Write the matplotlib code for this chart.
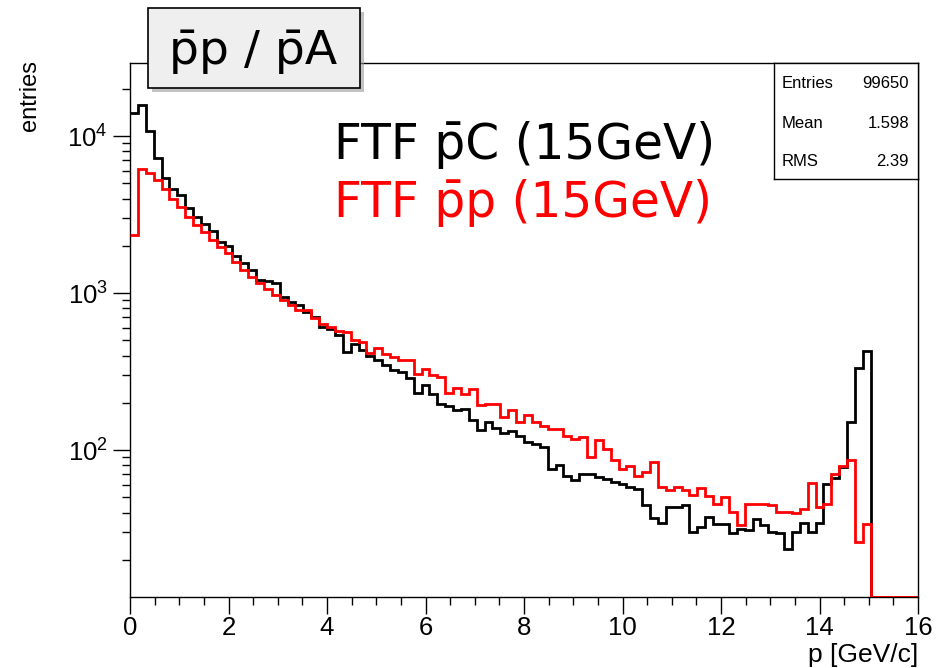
import numpy as np
import matplotlib
matplotlib.use("Agg")
import matplotlib.pyplot as plt
from matplotlib.patches import Rectangle
from matplotlib.ticker import FixedLocator, LogLocator, NullFormatter

# ---------------- data ----------------
bin_edges = np.linspace(0, 16, 101)

counts_pC = [14070, 15750, 10800, 7200, 5380, 4570, 4200, 3460, 3060, 2770,
             2490, 2130, 2000, 1730, 1550, 1400, 1220, 1190, 1160, 950,
             880, 840, 760, 709, 604, 590, 541, 424, 475, 433,
             400, 374, 348, 323, 316, 286, 230, 260, 227, 196,
             191, 180, 184, 155, 134, 152, 139, 129, 132, 123,
             112, 110, 105, 75.4, 80.6, 68, 64.4, 70.8, 70.8, 67.3,
             65, 62.6, 61.1, 58, 56.7, 45, 37.2, 34.4, 43.4, 43.4,
             45, 30.2, 32.3, 37.4, 34, 34, 29.5, 31.6, 30.9, 36.3,
             33.3, 30.2, 29.5, 23.3, 30.2, 34.3, 30.2, 34.4, 61.1, 66,
             78, 151, 331, 429, 0, 0, 0, 0, 0, 0]

counts_pp = [2340, 6140, 5840, 5250, 4570, 3950, 3510, 3060, 2710, 2460,
             2180, 1960, 1790, 1580, 1400, 1270, 1160, 1055, 970, 902,
             840, 779, 779, 690, 640, 610, 575, 565, 505, 490,
             414, 448, 411, 392, 374, 374, 304, 328, 299, 292,
             232, 250, 227, 244, 193, 198, 198, 162, 180, 152,
             167, 152, 142, 137, 137, 123, 118, 121, 90, 116,
             101, 86, 75.4, 79, 68, 72.6, 84.6, 58, 55.6, 58,
             55.6, 51.8, 57.5, 51, 45.5, 50, 40.2, 33.3, 45.5, 45.5,
             45.5, 45, 40.2, 40.2, 39.6, 42.3, 61.7, 43.5, 45.5, 70.8,
             78.9, 86.4, 25.8, 34, 0, 0, 0, 0, 0, 0]

stats_labels = ["Entries", "Mean", "RMS"]
stats_values = ["99650", "1.598", "2.39"]

x_major = [0, 2, 4, 6, 8, 10, 12, 14, 16]
title_text = "p\u0304p / p\u0304A"
legend_texts = ["FTF p\u0304C (15GeV)", "FTF p\u0304p (15GeV)"]
legend_colors = ["black", "red"]

# ---------------- figure ----------------
W, H = 940, 668
fig = plt.figure(figsize=(W / 100, H / 100), dpi=100)
plt.rcParams['font.family'] = ['Liberation Sans', 'DejaVu Sans']

def fx(px):
    return px / W

def fy(py):
    return 1 - py / H

x0, x1, y0, y1 = 130, 918, 63, 597
ax = fig.add_axes([fx(x0), fy(y1), fx(x1) - fx(x0), fy(y0) - fy(y1)])

ymin, ymax = 11.6, 29200
ax.set_yscale('log')
ax.set_xlim(0, 16)
ax.set_ylim(ymin, ymax)

b = np.array(counts_pC, dtype=float)
r = np.array(counts_pp, dtype=float)
b = np.where(b > 0, b, ymin)
r = np.where(r > 0, r, ymin)

ax.stairs(b, bin_edges, color='black', lw=2.0, baseline=None, zorder=3)
ax.stairs(r, bin_edges, color='red', lw=2.0, baseline=None, zorder=4)

for s in ax.spines.values():
    s.set_linewidth(1.0)
    s.set_color('black')

ax.xaxis.set_major_locator(FixedLocator(x_major))
ax.xaxis.set_minor_locator(FixedLocator(np.arange(0, 16.01, 0.5)))
ax.yaxis.set_major_locator(LogLocator(base=10, numticks=10))
ax.yaxis.set_minor_locator(LogLocator(base=10, subs=np.arange(2, 10), numticks=20))
ax.yaxis.set_minor_formatter(NullFormatter())

ax.tick_params(axis='both', which='major', direction='out', length=12, width=1.0,
               labelsize=18.5, pad=2, top=False, right=False)
ax.tick_params(axis='both', which='minor', direction='out', length=6, width=1.0,
               top=False, right=False)
ax.tick_params(axis='y', which='major', pad=4)

for lab in ax.get_xticklabels() + ax.get_yticklabels():
    lab.set_fontfamily('Liberation Sans')

# axis titles (ROOT style: right/top aligned)
fig.text(fx(918), fy(655), "p [GeV/c]", ha='right', va='center', fontsize=19,
         family='Liberation Sans')
fig.text(fx(30), fy(60), "entries", ha='center', va='top', rotation=90, fontsize=17,
         family='Liberation Sans')

# stats box
stat_ax = fig.add_axes([fx(774), fy(179), fx(918) - fx(774), fy(63) - fy(179)])
stat_ax.set_xlim(0, 1)
stat_ax.set_ylim(0, 1)
stat_ax.set_xticks([])
stat_ax.set_yticks([])
for s in stat_ax.spines.values():
    s.set_linewidth(1.0)
stat_rows_y = [84, 123, 162]
for lab, val, py in zip(stats_labels, stats_values, stat_rows_y):
    fig.text(fx(782), fy(py), lab, ha='left', va='center', fontsize=12,
             family='Liberation Sans')
    fig.text(fx(909), fy(py), val, ha='right', va='center', fontsize=12,
             family='Liberation Sans')

# title box with shadow
shadow = Rectangle((fx(152), fy(92)), fx(360) - fx(148), fy(8) - fy(88),
                   transform=fig.transFigure, facecolor='#9a9a9a', edgecolor='none',
                   alpha=0.6, zorder=9)
fig.patches.append(shadow)
box = Rectangle((fx(148), fy(88)), fx(360) - fx(148), fy(8) - fy(88),
                transform=fig.transFigure, facecolor='#efefef', edgecolor='black',
                lw=1.2, zorder=10)
fig.patches.append(box)
fig.text(fx(253), fy(52), title_text, ha='center', va='center', fontsize=34,
         family='DejaVu Sans', zorder=11)

# legend-like texts
for t, c, py in zip(legend_texts, legend_colors, [145, 203]):
    fig.text(fx(334), fy(py), t, ha='left', va='center', fontsize=35,
             color=c, family='DejaVu Sans')

fig.savefig("out.png", dpi=100)
